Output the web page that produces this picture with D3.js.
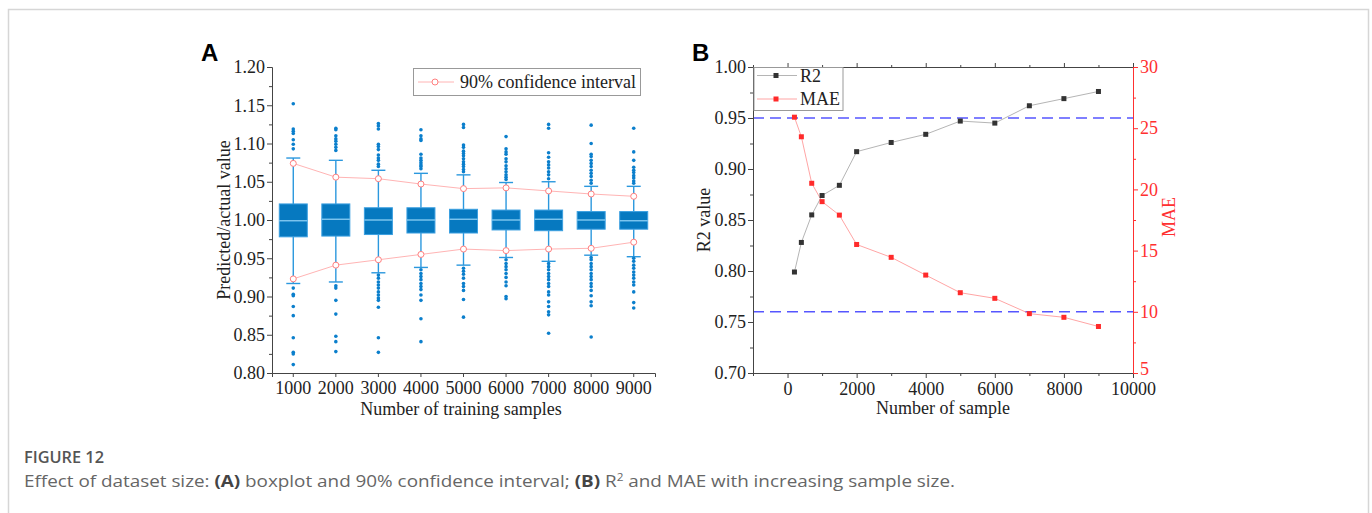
<html>
<head>
<title>Figure 12</title>
<script src="https://d3js.org/d3.v7.min.js"></script>
<style>
body { margin: 0; background: #fff; }
svg { display: block; }
</style>
</head>
<body>
<div id="fig"></div>
<script>

// ---- panel A data (box plot per training size) ----
var trainSizes = [1000, 2000, 3000, 4000, 5000, 6000, 7000, 8000, 9000];
var boxQ1     = [0.978, 0.979, 0.981, 0.983, 0.983, 0.987, 0.986, 0.988, 0.988];
var boxMedian = [0.999, 1.001, 1.000, 1.000, 1.001, 1.000, 1.001, 1.000, 0.999];
var boxQ3     = [1.021, 1.021, 1.016, 1.016, 1.014, 1.013, 1.013, 1.011, 1.011];
var whiskLow  = [0.917, 0.919, 0.931, 0.938, 0.941, 0.951, 0.946, 0.954, 0.952];
var whiskHigh = [1.081, 1.078, 1.065, 1.061, 1.059, 1.049, 1.050, 1.044, 1.044];
var ciLow     = [0.923, 0.941, 0.948, 0.955, 0.962, 0.960, 0.962, 0.963, 0.971];
var ciHigh    = [1.074, 1.056, 1.054, 1.047, 1.041, 1.042, 1.038, 1.034, 1.031];

var outliersHigh = [
  [1.152, 1.119, 1.116, 1.113, 1.105, 1.099, 1.093],
  [1.120, 1.118, 1.110, 1.106, 1.103, 1.099, 1.095, 1.091],
  [1.126, 1.123, 1.119, 1.099, 1.096, 1.092, 1.085, 1.081, 1.078, 1.073, 1.070],
  [1.118, 1.110, 1.106, 1.104, 1.086, 1.081, 1.078, 1.075, 1.072, 1.070, 1.067],
  [1.125, 1.121, 1.098, 1.095, 1.090, 1.087, 1.084, 1.080, 1.076, 1.073, 1.070, 1.066, 1.063],
  [1.109, 1.093, 1.089, 1.086, 1.080, 1.076, 1.071, 1.067, 1.063, 1.059, 1.056, 1.053],
  [1.125, 1.120, 1.088, 1.082, 1.076, 1.072, 1.068, 1.063, 1.059, 1.054],
  [1.124, 1.100, 1.086, 1.083, 1.078, 1.074, 1.070, 1.065, 1.061, 1.057, 1.052, 1.048],
  [1.120, 1.089, 1.078, 1.069, 1.065, 1.062, 1.058, 1.055, 1.051, 1.048]
];
var outliersLow = [
  [0.911, 0.903, 0.901, 0.887, 0.875, 0.846, 0.827, 0.825, 0.811],
  [0.914, 0.911, 0.895, 0.877, 0.848, 0.841, 0.828],
  [0.928, 0.924, 0.919, 0.915, 0.911, 0.906, 0.902, 0.898, 0.895, 0.886, 0.846, 0.827],
  [0.935, 0.930, 0.926, 0.922, 0.917, 0.913, 0.909, 0.902, 0.895, 0.871, 0.841],
  [0.937, 0.933, 0.929, 0.924, 0.917, 0.913, 0.908, 0.896, 0.873],
  [0.948, 0.943, 0.939, 0.935, 0.930, 0.925, 0.919, 0.914, 0.900, 0.897],
  [0.943, 0.939, 0.935, 0.930, 0.926, 0.922, 0.917, 0.913, 0.906, 0.902, 0.893, 0.887, 0.880, 0.876, 0.852],
  [0.951, 0.948, 0.943, 0.939, 0.935, 0.930, 0.926, 0.922, 0.917, 0.913, 0.908, 0.901, 0.893, 0.888, 0.847],
  [0.950, 0.946, 0.941, 0.937, 0.932, 0.928, 0.924, 0.919, 0.915, 0.906, 0.892, 0.885]
];
var yTicksA = [0.80, 0.85, 0.90, 0.95, 1.00, 1.05, 1.10, 1.15, 1.20];

// ---- panel B data ----
var sampleSizes = [200, 400, 700, 1000, 1500, 2000, 3000, 4000, 5000, 6000, 7000, 8000, 9000];
var r2Values  = [0.799, 0.828, 0.855, 0.874, 0.884, 0.917, 0.926, 0.934, 0.947, 0.945, 0.962, 0.969, 0.976];
var maeValues = [25.9, 24.3, 20.5, 19.0, 17.9, 15.5, 14.45, 13.0, 11.56, 11.1, 9.85, 9.55, 8.8];
var r2Ticks  = [0.70, 0.75, 0.80, 0.85, 0.90, 0.95, 1.00];
var maeTicks = [5, 10, 15, 20, 25, 30];
var sampleTicks = [0, 2000, 4000, 6000, 8000, 10000];
var r2Target = 0.95;
var maeTarget = 10;

var serif = "'Liberation Serif', 'Times New Roman', serif";
var W = 1372, H = 513;

var svg = d3.select("#fig").append("svg")
  .attr("width", W).attr("height", H);

// light frame around the figure
svg.append("path")
  .attr("d", "M8.5,513 L8.5,9.5 L1368.5,9.5 L1368.5,513")
  .attr("fill", "none").attr("stroke", "#d6d6d6").attr("stroke-width", 1.5);

function styleAxis(g, color) {
  g.attr("font-family", serif).attr("font-size", 18);
  g.selectAll("text").attr("fill", color || "#222");
  g.selectAll("line, path").attr("stroke", color || "#444");
}

function midpoints(arr) {
  var m = [];
  for (var i = 0; i < arr.length - 1; i++) m.push((arr[i] + arr[i + 1]) / 2);
  return m;
}

/////////////////////// panel A ///////////////////////
var xA = d3.scaleBand().domain(trainSizes).range([272, 655]);
var yA = d3.scaleLinear().domain([0.80, 1.20]).range([373, 67]);
var boxW = 28, capW = 14;

var gA = svg.append("g");

// CI line behind boxes
var ciLine = d3.line().x(function(d, i) { return xA(trainSizes[i]) + xA.bandwidth() / 2; })
  .y(function(d) { return yA(d); });

var boxes = gA.selectAll(".box").data(trainSizes).enter().append("g")
  .attr("transform", function(d) { return "translate(" + (xA(d) + xA.bandwidth() / 2) + ",0)"; });

// whiskers
boxes.append("line").attr("x1", 0).attr("x2", 0)
  .attr("y1", function(d, i) { return yA(whiskHigh[i]); })
  .attr("y2", function(d, i) { return yA(boxQ3[i]); })
  .attr("stroke", "#2b98de").attr("stroke-width", 1.4);
boxes.append("line").attr("x1", 0).attr("x2", 0)
  .attr("y1", function(d, i) { return yA(boxQ1[i]); })
  .attr("y2", function(d, i) { return yA(whiskLow[i]); })
  .attr("stroke", "#2b98de").attr("stroke-width", 1.4);
boxes.append("line").attr("x1", -capW / 2).attr("x2", capW / 2)
  .attr("y1", function(d, i) { return yA(whiskHigh[i]); })
  .attr("y2", function(d, i) { return yA(whiskHigh[i]); })
  .attr("stroke", "#2b98de").attr("stroke-width", 1.4);
boxes.append("line").attr("x1", -capW / 2).attr("x2", capW / 2)
  .attr("y1", function(d, i) { return yA(whiskLow[i]); })
  .attr("y2", function(d, i) { return yA(whiskLow[i]); })
  .attr("stroke", "#2b98de").attr("stroke-width", 1.4);

// boxes
boxes.append("rect").attr("x", -boxW / 2).attr("width", boxW)
  .attr("y", function(d, i) { return yA(boxQ3[i]); })
  .attr("height", function(d, i) { return yA(boxQ1[i]) - yA(boxQ3[i]); })
  .attr("fill", "#0679c0").attr("stroke", "#3a9fe0").attr("stroke-width", 1);
boxes.append("line").attr("x1", -boxW / 2).attr("x2", boxW / 2)
  .attr("y1", function(d, i) { return yA(boxMedian[i]); })
  .attr("y2", function(d, i) { return yA(boxMedian[i]); })
  .attr("stroke", "#8ccff4").attr("stroke-width", 1.3);

// outliers
boxes.each(function(d, i) {
  var pts = outliersHigh[i].concat(outliersLow[i]);
  d3.select(this).selectAll("circle").data(pts).enter().append("circle")
    .attr("cx", 0).attr("cy", function(v) { return yA(v); })
    .attr("r", 1.8).attr("fill", "#0b7fcc");
});

// 90% confidence interval
[ciLow, ciHigh].forEach(function(ci) {
  gA.append("path").attr("d", ciLine(ci))
    .attr("fill", "none").attr("stroke", "#ffb4b4").attr("stroke-width", 1);
  gA.selectAll(null).data(ci).enter().append("circle")
    .attr("cx", function(d, i) { return xA(trainSizes[i]) + xA.bandwidth() / 2; })
    .attr("cy", function(d) { return yA(d); })
    .attr("r", 3).attr("fill", "#fff").attr("stroke", "#ff7f7f").attr("stroke-width", 1);
});

// axes
var axA = gA.append("g").attr("transform", "translate(272,0)")
  .call(d3.axisLeft(yA).tickValues(yTicksA).tickFormat(d3.format(".2f")).tickSize(5).tickPadding(2));
styleAxis(axA);
var axAm = gA.append("g").attr("transform", "translate(272,0)")
  .call(d3.axisLeft(yA).tickValues(midpoints(yTicksA)).tickFormat("").tickSize(3));
styleAxis(axAm);
axAm.select(".domain").remove();
var axAx = gA.append("g").attr("transform", "translate(0,373)")
  .call(d3.axisBottom(xA).tickSizeOuter(0).tickSize(4).tickPadding(4));
styleAxis(axAx);

gA.append("text").attr("transform", "translate(230,220) rotate(-90)")
  .attr("text-anchor", "middle").attr("font-family", serif).attr("font-size", 18)
  .attr("fill", "#222").text("Predicted/actual value");
gA.append("text").attr("x", 461).attr("y", 415)
  .attr("text-anchor", "middle").attr("font-family", serif).attr("font-size", 18)
  .attr("fill", "#222").text("Number of training samples");

// legend
var legA = gA.append("g");
legA.append("rect").attr("x", 413.5).attr("y", 68.5).attr("width", 227).attr("height", 27)
  .attr("fill", "#fff").attr("stroke", "#999");
legA.append("line").attr("x1", 418).attr("x2", 454).attr("y1", 82).attr("y2", 82)
  .attr("stroke", "#ffb4b4");
legA.append("circle").attr("cx", 435).attr("cy", 82).attr("r", 3)
  .attr("fill", "#fff").attr("stroke", "#ff7f7f");
legA.append("text").attr("x", 460).attr("y", 88).attr("font-family", serif)
  .attr("font-size", 18).attr("fill", "#222").text("90% confidence interval");

svg.append("text").attr("x", 201).attr("y", 61)
  .attr("font-family", "'Liberation Sans', Arial, sans-serif").attr("font-weight", "bold")
  .attr("font-size", 24).attr("fill", "#000").text("A");

/////////////////////// panel B ///////////////////////
var xB = d3.scaleLinear().domain([-1000, 10000]).range([753, 1133]);
var yB = d3.scaleLinear().domain([0.70, 1.00]).range([373, 67]);
var yM = d3.scaleLinear().domain([5, 30]).range([373, 67]);

var gB = svg.append("g");

// target lines
gB.append("line").attr("x1", 753).attr("x2", 1133)
  .attr("y1", yB(r2Target)).attr("y2", yB(r2Target))
  .attr("stroke", "#5656ff").attr("stroke-width", 1.5).attr("stroke-dasharray", "11,6");
gB.append("line").attr("x1", 753).attr("x2", 1133)
  .attr("y1", yM(maeTarget)).attr("y2", yM(maeTarget))
  .attr("stroke", "#5656ff").attr("stroke-width", 1.5).attr("stroke-dasharray", "11,6");

var r2Line = d3.line().x(function(d, i) { return xB(sampleSizes[i]); }).y(function(d) { return yB(d); });
var maeLine = d3.line().x(function(d, i) { return xB(sampleSizes[i]); }).y(function(d) { return yM(d); });

gB.append("path").attr("d", r2Line(r2Values)).attr("fill", "none")
  .attr("stroke", "#b5b5b5").attr("stroke-width", 1);
gB.append("path").attr("d", maeLine(maeValues)).attr("fill", "none")
  .attr("stroke", "#ffa5a5").attr("stroke-width", 1);

gB.selectAll(".r2pt").data(r2Values).enter().append("rect")
  .attr("x", function(d, i) { return xB(sampleSizes[i]) - 2.5; })
  .attr("y", function(d) { return yB(d) - 2.5; })
  .attr("width", 5).attr("height", 5).attr("fill", "#333");
gB.selectAll(".maept").data(maeValues).enter().append("rect")
  .attr("x", function(d, i) { return xB(sampleSizes[i]) - 2.5; })
  .attr("y", function(d) { return yM(d) - 2.5; })
  .attr("width", 5).attr("height", 5).attr("fill", "#ff2a2a");

// axes
var minorX = [-1000].concat(midpoints(sampleTicks));
var axBl = gB.append("g").attr("transform", "translate(753,0)")
  .call(d3.axisLeft(yB).tickValues(r2Ticks).tickFormat(d3.format(".2f")).tickSize(5).tickPadding(2));
styleAxis(axBl);
var axBlm = gB.append("g").attr("transform", "translate(753,0)")
  .call(d3.axisLeft(yB).tickValues(midpoints(r2Ticks)).tickFormat("").tickSize(3));
styleAxis(axBlm); axBlm.select(".domain").remove();

var axBb = gB.append("g").attr("transform", "translate(0,373)")
  .call(d3.axisBottom(xB).tickValues(sampleTicks).tickFormat(d3.format("d")).tickSize(5).tickPadding(4).tickSizeOuter(0));
styleAxis(axBb);
var axBbm = gB.append("g").attr("transform", "translate(0,373)")
  .call(d3.axisBottom(xB).tickValues(minorX).tickFormat("").tickSize(3));
styleAxis(axBbm); axBbm.select(".domain").remove();

var axBt = gB.append("g").attr("transform", "translate(0,67)")
  .call(d3.axisTop(xB).tickValues(sampleTicks).tickFormat("").tickSize(4).tickSizeOuter(0));
styleAxis(axBt);
var axBtm = gB.append("g").attr("transform", "translate(0,67)")
  .call(d3.axisTop(xB).tickValues(minorX).tickFormat("").tickSize(2));
styleAxis(axBtm); axBtm.select(".domain").remove();

var red = "#ff3030";
var axBr = gB.append("g").attr("transform", "translate(1133,0)")
  .call(d3.axisRight(yM).tickValues(maeTicks).tickSize(5).tickPadding(2));
styleAxis(axBr, red);
// the lowest right label sits just above the corner, clear of "10000"
axBr.selectAll(".tick text").filter(function(d) { return d === 5; }).attr("dy", "0.1em");
var axBrm = gB.append("g").attr("transform", "translate(1133,0)")
  .call(d3.axisRight(yM).tickValues(midpoints(maeTicks)).tickFormat("").tickSize(3));
styleAxis(axBrm, red); axBrm.select(".domain").remove();

gB.append("text").attr("transform", "translate(710,220) rotate(-90)")
  .attr("text-anchor", "middle").attr("font-family", serif).attr("font-size", 18)
  .attr("fill", "#222").text("R2 value");
gB.append("text").attr("transform", "translate(1175,217) rotate(-90)")
  .attr("text-anchor", "middle").attr("font-family", serif).attr("font-size", 18)
  .attr("fill", red).text("MAE");
gB.append("text").attr("x", 943).attr("y", 414)
  .attr("text-anchor", "middle").attr("font-family", serif).attr("font-size", 18)
  .attr("fill", "#222").text("Number of sample");

// legend
var legB = gB.append("g");
legB.append("rect").attr("x", 754).attr("y", 67.5).attr("width", 89).attr("height", 43)
  .attr("fill", "#fff").attr("stroke", "#999");
[["R2", "#b5b5b5", "#333", 75.5], ["MAE", "#ffa5a5", "#ff2a2a", 99]].forEach(function(e) {
  legB.append("line").attr("x1", 757).attr("x2", 797).attr("y1", e[3]).attr("y2", e[3])
    .attr("stroke", e[1]);
  legB.append("rect").attr("x", 773.5).attr("y", e[3] - 2.5).attr("width", 5).attr("height", 5)
    .attr("fill", e[2]);
  legB.append("text").attr("x", 800).attr("y", e[3] + 6).attr("font-family", serif)
    .attr("font-size", 18).attr("fill", "#222").text(e[0]);
});

svg.append("text").attr("x", 692).attr("y", 61)
  .attr("font-family", "'Liberation Sans', Arial, sans-serif").attr("font-weight", "bold")
  .attr("font-size", 24).attr("fill", "#000").text("B");

/////////////////////// caption ///////////////////////
var capFont = "'Open Sans', Lato, sans-serif";
svg.append("text").attr("x", 24).attr("y", 463)
  .attr("font-family", capFont).attr("font-size", 16).attr("fill", "#555")
  .attr("font-weight", 600).attr("textLength", 80).attr("lengthAdjust", "spacingAndGlyphs")
  .text("FIGURE 12");
var cap = svg.append("text").attr("x", 24).attr("y", 487)
  .attr("font-family", capFont).attr("font-size", 16).attr("fill", "#666")
  .attr("textLength", 931).attr("lengthAdjust", "spacingAndGlyphs");
cap.append("tspan").text("Effect of dataset size: ");
cap.append("tspan").attr("font-weight", "bold").attr("fill", "#444").text("(A)");
cap.append("tspan").text(" boxplot and 90% confidence interval; ");
cap.append("tspan").attr("font-weight", "bold").attr("fill", "#444").text("(B)");
cap.append("tspan").text(" R");
cap.append("tspan").attr("font-size", 10).attr("dy", -6).text("2");
cap.append("tspan").attr("dy", 6).text(" and MAE with increasing sample size.");

</script>
</body>
</html>
